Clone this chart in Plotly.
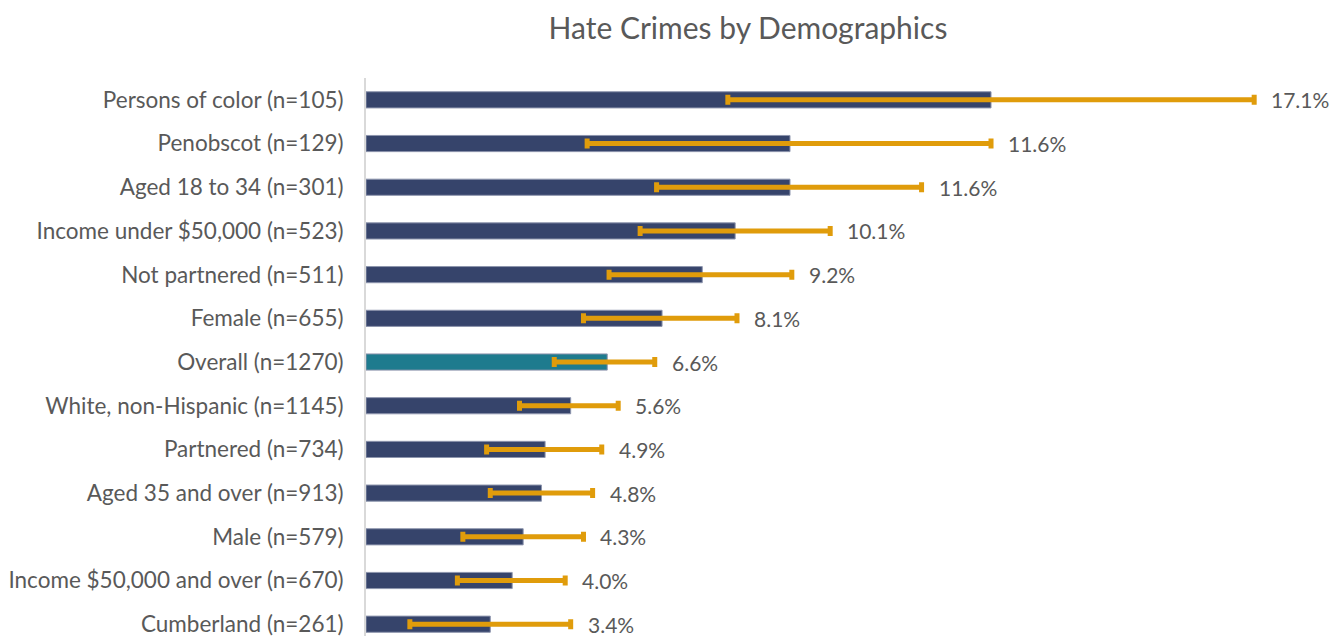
import plotly.graph_objects as go

# rows top to bottom
categories = [
    "Persons of color (n=105)",
    "Penobscot (n=129)",
    "Aged 18 to 34 (n=301)",
    "Income under $50,000 (n=523)",
    "Not partnered (n=511)",
    "Female (n=655)",
    "Overall (n=1270)",
    "White, non-Hispanic (n=1145)",
    "Partnered (n=734)",
    "Aged 35 and over (n=913)",
    "Male (n=579)",
    "Income $50,000 and over (n=670)",
    "Cumberland (n=261)",
]
values = [17.1, 11.6, 11.6, 10.1, 9.2, 8.1, 6.6, 5.6, 4.9, 4.8, 4.3, 4.0, 3.4]
ci_low = [9.9, 6.05, 7.95, 7.5, 6.65, 5.95, 5.15, 4.2, 3.3, 3.4, 2.65, 2.5, 1.2]
ci_high = [24.3, 17.1, 15.2, 12.7, 11.65, 10.15, 7.9, 6.9, 6.45, 6.2, 5.95, 5.45, 5.6]

NAVY = "#36446b"
TEAL = "#1e7b8e"
ORANGE = "#e09c0b"
TEXT = "#595959"
FONT = "Lato"

bar_colors = [TEAL if c.startswith("Overall") else NAVY for c in categories]

fig = go.Figure()
fig.add_trace(go.Bar(
    y=categories,
    x=values,
    orientation="h",
    width=0.37,
    marker=dict(color=bar_colors, line=dict(color="#8d95ad", width=1)),
    error_x=dict(
        type="data",
        symmetric=False,
        array=[h - v for h, v in zip(ci_high, values)],
        arrayminus=[v - l for l, v in zip(ci_low, values)],
        color=ORANGE,
        thickness=5,
        width=5,
    ),
    hoverinfo="skip",
    showlegend=False,
))

for cat, v, hi in zip(categories, values, ci_high):
    fig.add_annotation(
        x=hi, y=cat, text=f"{v:.1f}%", showarrow=False,
        xanchor="left", xshift=15,
        font=dict(family=FONT, size=21, color=TEXT),
    )

# the page has an 8px body margin, so the figure is made 8px smaller and
# everything is placed 8px up/left
fig.update_layout(
    width=1335, height=628,
    margin=dict(l=358, r=0, t=70, b=0),
    paper_bgcolor="white", plot_bgcolor="white",
    title=dict(
        text="Hate Crimes by Demographics",
        x=740 / 1335, xanchor="center", xref="container",
        y=1 - 20 / 628, yanchor="middle",
        font=dict(family=FONT, size=30, color=TEXT),
    ),
    font=dict(family=FONT, color=TEXT),
    bargap=0.6,
)
fig.update_xaxes(
    range=[0, 26.73], visible=False, showgrid=False, zeroline=False,
)
fig.update_yaxes(
    type="category",
    categoryorder="array", categoryarray=categories,
    range=[12.27, -0.5],
    showline=True, linecolor="#d9d9d9", linewidth=2,
    showgrid=False, zeroline=False,
    ticks="", ticklabelstandoff=16,
    tickfont=dict(family=FONT, size=22.5, color=TEXT),
)

fig.write_html("out.html")
